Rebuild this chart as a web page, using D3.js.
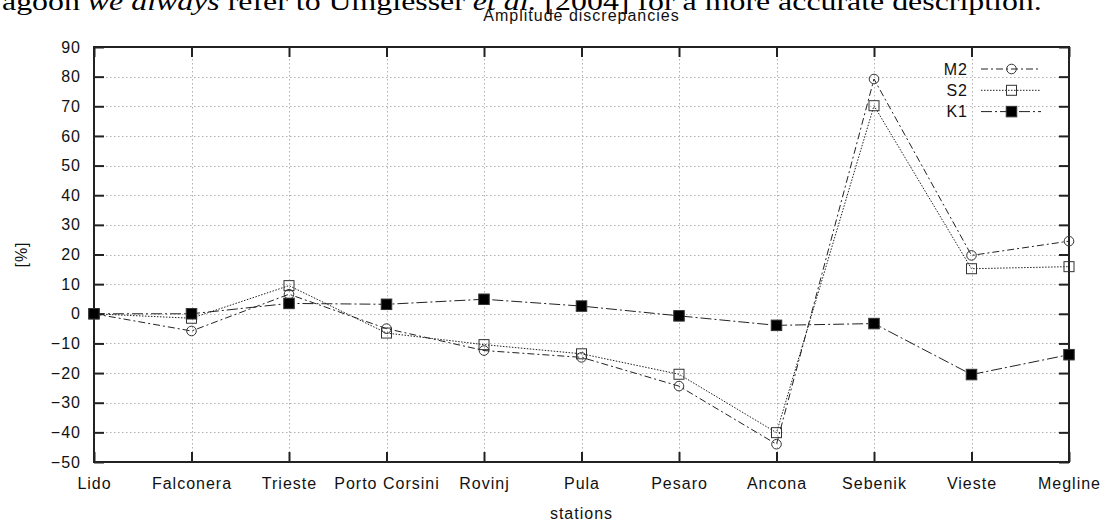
<!DOCTYPE html>
<html>
<head>
<meta charset="utf-8">
<script src="https://cdn.jsdelivr.net/npm/d3@7"></script>
<style>
  body { margin: 0; background: #fff; }
  svg { display: block; }
</style>
</head>
<body>
<div id="app"></div>
<script>
// stations along the coast
const stations = ['Lido', 'Falconera', 'Trieste', 'Porto Corsini', 'Rovinj', 'Pula', 'Pesaro', 'Ancona', 'Sebenik', 'Vieste', 'Megline'];

// amplitude discrepancies in percent
const m2 = [0, -5.8, 6.6, -5.0, -12.4, -14.7, -24.4, -44.0, 79.2, 19.7, 24.5];
const s2 = [0, -1.5, 9.5, -6.5, -10.4, -13.5, -20.4, -40.1, 70.2, 15.2, 15.9];
const k1 = [0, 0, 3.5, 3.2, 4.9, 2.6, -0.7, -3.9, -3.3, -20.5, -13.8];

const yTicks = [-50, -40, -30, -20, -10, 0, 10, 20, 30, 40, 50, 60, 70, 80, 90];

const width = 1107;
const height = 524;
const plotLeft = 94, plotRight = 1069, plotTop = 47, plotBottom = 462;
const font = 'Liberation Sans, Arial, sans-serif';

const svg = d3.select('#app')
  .append('svg')
  .attr('width', width)
  .attr('height', height);

// cut-off line of the surrounding document
const docText = svg.append('text')
  .attr('font-family', 'Liberation Serif, Times New Roman, serif')
  .attr('font-size', 26)
  .attr('fill', '#000');
docText.append('tspan').text('agoon ');
docText.append('tspan').attr('font-style', 'italic').text('we always');
docText.append('tspan').text(' refer to Umgiesser ');
docText.append('tspan').attr('font-style', 'italic').text('et al.');
docText.append('tspan').text(' [2004] for a more accurate description.');
const docLen = docText.node().getComputedTextLength();
docText.attr('transform', `translate(2,10) scale(${1040 / docLen},1)`);

const x = d3.scalePoint().domain(stations).range([plotLeft, plotRight]);
const y = d3.scaleLinear().domain([-50, 90]).range([plotBottom, plotTop]);

// grid
const grid = svg.append('g').attr('stroke', '#b0b0b0').attr('stroke-width', 1).attr('stroke-dasharray', '1.5,2.5');
grid.selectAll('.gy')
  .data(yTicks.slice(1, -1))
  .enter()
  .append('line')
  .attr('x1', plotLeft)
  .attr('x2', plotRight)
  .attr('y1', (d) => Math.round(y(d)) + 0.5)
  .attr('y2', (d) => Math.round(y(d)) + 0.5);
grid.selectAll('.gx')
  .data(stations.slice(1, -1))
  .enter()
  .append('line')
  .attr('x1', (d) => Math.round(x(d)) + 0.5)
  .attr('x2', (d) => Math.round(x(d)) + 0.5)
  .attr('y1', plotTop)
  .attr('y2', plotBottom);

// axes with inward ticks
const styleAxis = (g) => {
  g.select('.domain').remove();
  g.selectAll('line').attr('stroke', '#222').attr('stroke-width', 2);
  g.selectAll('text')
    .attr('font-family', font)
    .attr('font-size', 16)
    .attr('letter-spacing', 1)
    .attr('fill', '#111');
};

svg.append('g')
  .attr('transform', `translate(${plotLeft},0)`)
  .call(d3.axisLeft(y).tickValues(yTicks).tickSizeInner(-10).tickSizeOuter(0).tickPadding(13))
  .call(styleAxis);

svg.append('g')
  .attr('transform', `translate(${plotRight},0)`)
  .call(d3.axisRight(y).tickValues(yTicks).tickSizeInner(-10).tickSizeOuter(0).tickFormat(''))
  .call(styleAxis);

svg.append('g')
  .attr('transform', `translate(0,${plotBottom})`)
  .call(d3.axisBottom(x).tickSizeInner(-10).tickSizeOuter(0).tickPadding(16))
  .call(styleAxis);

svg.append('g')
  .attr('transform', `translate(0,${plotTop})`)
  .call(d3.axisTop(x).tickSizeInner(-10).tickSizeOuter(0).tickFormat(''))
  .call(styleAxis);

// frame
svg.append('rect')
  .attr('x', plotLeft)
  .attr('y', plotTop)
  .attr('width', plotRight - plotLeft)
  .attr('height', plotBottom - plotTop)
  .attr('fill', 'none')
  .attr('stroke', '#222')
  .attr('stroke-width', 2);

// titles
svg.append('text')
  .attr('x', (plotLeft + plotRight) / 2)
  .attr('y', 21)
  .attr('text-anchor', 'middle')
  .attr('font-family', font)
  .attr('font-size', 16)
  .attr('letter-spacing', 1)
  .attr('fill', '#111')
  .text('Amplitude discrepancies');

svg.append('text')
  .attr('x', (plotLeft + plotRight) / 2)
  .attr('y', 519)
  .attr('text-anchor', 'middle')
  .attr('font-family', font)
  .attr('font-size', 16)
  .attr('letter-spacing', 1)
  .attr('fill', '#111')
  .text('stations');

svg.append('text')
  .attr('transform', `translate(27,${(plotTop + plotBottom) / 2}) rotate(-90)`)
  .attr('text-anchor', 'middle')
  .attr('font-family', font)
  .attr('font-size', 16)
  .attr('letter-spacing', 1)
  .attr('fill', '#111')
  .text('[%]');

const series = [
  { name: 'M2', values: m2, dash: '7,3,2,3', marker: 'circle', fill: 'none' },
  { name: 'S2', values: s2, dash: '1.5,1.5', marker: 'square', fill: 'none' },
  { name: 'K1', values: k1, dash: '11,3,2,3', marker: 'square', fill: '#000' }
];

const line = d3.line()
  .x((d, i) => x(stations[i]))
  .y((d) => y(d));

const drawMarker = (g, s, cx, cy) => {
  if (s.marker === 'circle') {
    g.append('circle')
      .attr('cx', cx)
      .attr('cy', cy)
      .attr('r', 4.8)
      .attr('fill', 'none')
      .attr('stroke', '#333')
      .attr('stroke-width', 1);
  } else {
    const size = s.fill === 'none' ? 10 : 10.5;
    g.append('rect')
      .attr('x', cx - size / 2)
      .attr('y', cy - size / 2)
      .attr('width', size)
      .attr('height', size)
      .attr('fill', s.fill)
      .attr('stroke', '#333')
      .attr('stroke-width', 1);
  }
};

series.forEach((s) => {
  const g = svg.append('g');
  g.append('path')
    .datum(s.values)
    .attr('d', line)
    .attr('fill', 'none')
    .attr('stroke', '#222')
    .attr('stroke-width', 1)
    .attr('stroke-dasharray', s.dash);
  s.values.forEach((v, i) => drawMarker(g, s, x(stations[i]), y(v)));
});

// legend
const legend = svg.append('g');
series.forEach((s, i) => {
  const ly = 69 + i * 21.3;
  legend.append('text')
    .attr('x', 968)
    .attr('y', ly + 5.5)
    .attr('text-anchor', 'end')
    .attr('font-family', font)
    .attr('font-size', 16)
    .attr('letter-spacing', 1)
    .attr('fill', '#111')
    .text(s.name);
  legend.append('line')
    .attr('x1', 981)
    .attr('x2', 1041)
    .attr('y1', ly)
    .attr('y2', ly)
    .attr('stroke', '#222')
    .attr('stroke-width', 1)
    .attr('stroke-dasharray', s.dash);
  drawMarker(legend, s, 1011.5, ly);
});
</script>
</body>
</html>
